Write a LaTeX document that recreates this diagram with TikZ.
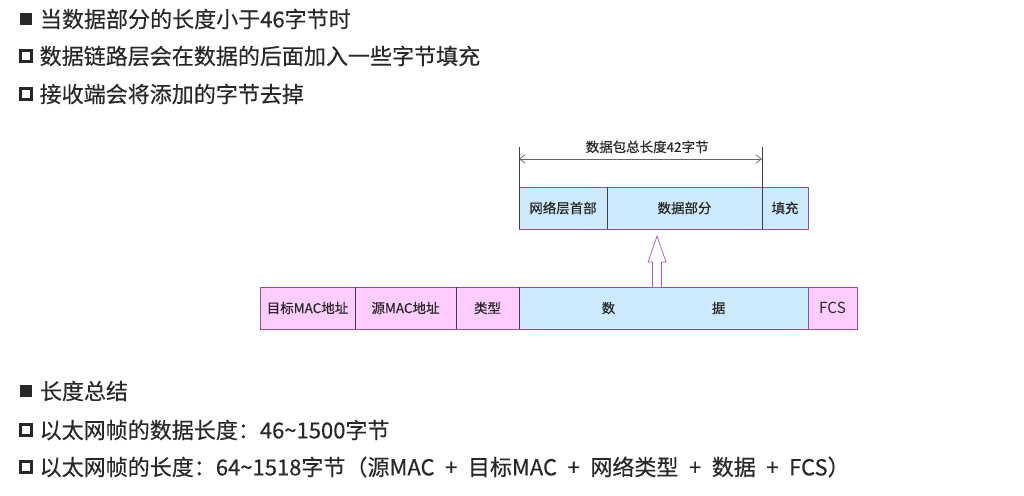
\documentclass[tikz,border=0pt]{standalone}
\usepackage{fontspec}
\setmainfont{Noto Sans CJK SC}
\usepackage{tikz}
\usetikzlibrary{arrows.meta, positioning, calc}
\usepackage{xcolor}
\definecolor{txtgray}{RGB}{40,40,40}
\definecolor{cellpink}{RGB}{255,204,255}
\definecolor{cellblue}{RGB}{204,234,252}
\definecolor{framepurple}{RGB}{150,80,150}
\definecolor{arrowviolet}{RGB}{175,85,195}

\begin{document}
\begin{tikzpicture}[
    x=0.03cm, y=-0.03cm,
    node distance=0cm,
    line/.style={font=\fontsize{18.8}{22}\selectfont\addfontfeatures{FakeBold=0.3}, text=txtgray, inner sep=0pt},
    fullsq/.style={fill=txtgray, minimum size=0.37cm, inner sep=0pt},
    opensq/.style={draw=txtgray, line width=0.075cm, minimum size=0.33cm, inner sep=0pt},
    cell/.style={draw=framepurple, fill=cellpink, minimum height=1.26cm, inner sep=0pt,
                 outer sep=0pt, font=\fontsize{11.5}{13}\selectfont\addfontfeatures{FakeBold=0.4}, text=txtgray},
    datacell/.style={cell, fill=cellblue},
    dim/.style={{Straight Barb[length=1.7mm, width=2.6mm]}-{Straight Barb[length=1.7mm, width=2.6mm]},
                draw=black!60, line width=0.6pt},
    tick/.style={draw=black!75, line width=0.6pt},
    hollow/.style={draw=arrowviolet, fill=white, line width=0.6pt},
]
    \fill[white] (0,0) rectangle (1024,495);
    \useasboundingbox (0,0) rectangle (1024,495);

    % Upper notes
    \node[fullsq] (b1) at (26,19) {};
    \node[line, right=0.22cm of b1] (t1) {当数据部分的长度小于46字节时};
    \node[opensq] (b2) at (26,56) {};
    \node[line, right=0.2cm of b2] (t2) {数据链路层会在数据的后面加入一些字节填充};
    \node[opensq] (b3) at (26,94) {};
    \node[line, right=0.2cm of b3] (t3) {接收端会将添加的字节去掉};

    % Ethernet frame
    \node[cell, minimum width=2.85cm, anchor=west] (dst) at (260,308) {目标MAC地址};
    \node[cell, minimum width=3.03cm, right=of dst] (src) {源MAC地址};
    \node[cell, minimum width=1.89cm, right=of src] (typ) {类型};
    \node[datacell, minimum width=8.67cm, right=of typ] (data) {数\hspace{2.9cm}据};
    \node[cell, minimum width=1.47cm, right=of data, font=\fontsize{13}{15}\selectfont] (fcs) {FCS};
    \draw[draw=black!75, line width=0.6pt] (dst.north east) -- (dst.south east)
        (src.north east) -- (src.south east) (typ.north east) -- (typ.south east);

    % Packet with padding
    \node[datacell, minimum width=2.64cm, anchor=west] (hdr) at (519,208) {网络层首部};
    \node[datacell, minimum width=4.65cm, right=of hdr] (part) {数据部分};
    \node[datacell, minimum width=1.38cm, right=of part] (pad) {填充};
    \draw[draw=black!75, line width=0.6pt] (hdr.north west) -- (hdr.south west)
        (hdr.north east) -- (hdr.south east) (part.north east) -- (part.south east);

    % Total length
    \draw[tick] (hdr.north west) -- ++(0,-40) coordinate (dimL);
    \draw[tick] (pad.north west) -- ++(0,-40) coordinate (dimR);
    \draw[dim] ($(dimL)+(0,12)$) -- ($(dimR)+(0,12)$)
        node[midway, above=0.05cm, xshift=0.2cm, font=\fontsize{11.5}{13}\selectfont\addfontfeatures{FakeBold=0.4}, text=txtgray] (tot) {数据包总长度42字节};

    % Hollow arrow
    \coordinate (up) at ($(data.north)+(-6.5,0)$);
    \draw[hollow] ($(up)+(-4.5,0)$) -- ++(0,-25) -- ++(-4.5,0) -- ++(9,-26)
        -- ++(9,26) -- ++(-4.5,0) -- ++(0,25);

    % Summary
    \node[fullsq] (b4) at (26,391) {};
    \node[line, right=0.22cm of b4] (t4) {长度总结};
    \node[opensq] (b5) at (26,430) {};
    \node[line, right=0.2cm of b5] (t5) {以太网帧的数据长度：46\textasciitilde 1500字节};
    \node[opensq] (b6) at (26,467) {};
    \node[line, right=0.2cm of b6] (t6) {\spaceskip=9pt 以太网帧的长度：64\textasciitilde 1518字节（源MAC + 目标MAC + 网络类型 + 数据 + FCS）};
\end{tikzpicture}
\end{document}
